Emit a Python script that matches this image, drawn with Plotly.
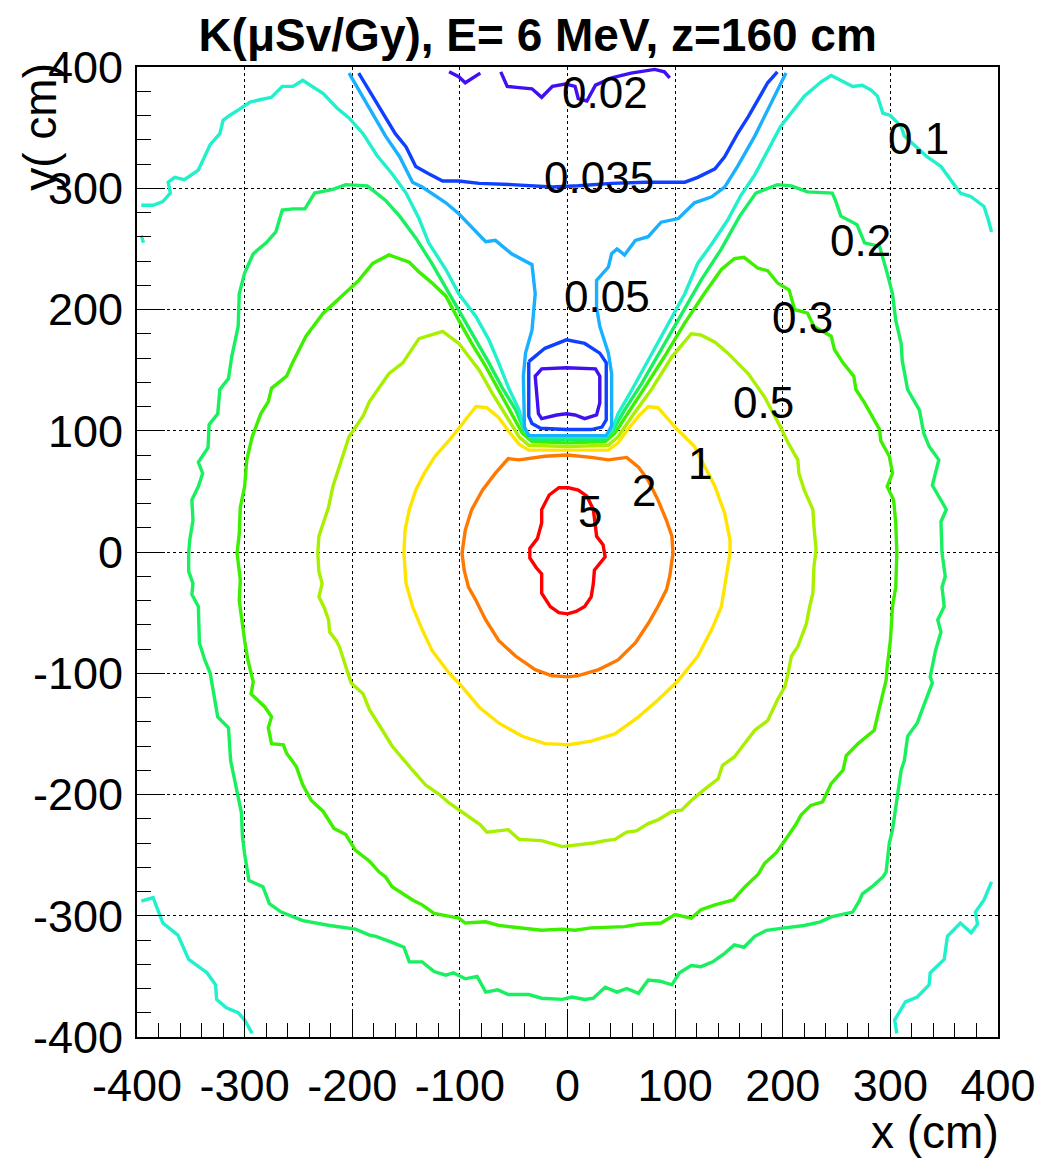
import plotly.graph_objects as go

k5_x = [0, -8, -17, -24, -24, -28, -35, -35, -29, -24, -24, -16, -8, 0, 8, 16, 22, 24, 25, 30, 35, 33, 27, 26, 24, 18, 10, 1, 0]
k5_y = [53, 53, 47, 35, 24, 11, 3, -5, -13, -18, -34, -45, -50, -51, -49, -45, -37, -26, -15, -9, -4, 6, 13, 21, 35, 46, 51, 53, 53]

k2_x = [0, -21, -45, -55, -67, -79, -89, -95, -98, -96, -92, -85, -76, -64, -48, -30, -15, 0, 10, 29, 47, 63, 75, 84, 92, 95, 98, 97, 92, 84, 75, 66, 55, 38, 22, 0]
k2_y = [80, 79, 76, 77, 65, 51, 35, 18, -1, -15, -29, -40, -56, -73, -86, -97, -102, -103, -102, -97, -89, -75, -59, -45, -31, -20, -1, 13, 26, 43, 59, 70, 78, 76, 78, 80]

k1_x = [0, 38, 47, 56, 66, 75, 84, 100, 118, 137, 146, 151, 151, 146, 143, 134, 121, 103, 84, 66, 44, 22, 1, -21, -42, -64, -82, -98, -110, -126, -135, -144, -150, -152, -151, -147, -141, -133, -123, -110, -98, -85, -75, -64, -55, -45, -36, 0]
k1_y = [84, 84, 90, 101, 112, 120, 119, 103, 87, 54, 32, 10, -1, -29, -45, -64, -86, -106, -122, -136, -150, -156, -159, -158, -152, -141, -128, -111, -100, -81, -64, -45, -26, -1, 18, 35, 51, 65, 79, 92, 105, 120, 119, 111, 100, 89, 84, 84]

k05_x = [0, 38, 47, 60, 78, 97, 115, 124, 137, 149, 168, 183, 198, 205, 214, 215, 220, 228, 229, 231, 229, 228, 225, 222, 214, 208, 205, 202, 195, 186, 174, 164, 155, 144, 140, 127, 115, 106, 97, 84, 75, 64, 55, 44, 35, 24, 13, 1, -5, -24, -45, -55, -75, -81, -99, -110, -119, -132, -144, -156, -163, -172, -184, -190, -201, -204, -212, -215, -221, -222, -226, -231, -228, -231, -232, -231, -227, -222, -218, -212, -203, -190, -184, -166, -153, -138, -116, -101, -82, -70, -55, -45, -36, 0]
k05_y = [87, 88, 95, 112, 134, 161, 180, 179, 173, 164, 147, 128, 103, 90, 76, 65, 51, 35, 21, 2, -12, -34, -45, -59, -78, -86, -100, -111, -122, -139, -147, -158, -169, -176, -187, -196, -205, -213, -214, -221, -224, -230, -231, -237, -238, -240, -241, -242, -243, -238, -237, -229, -231, -225, -214, -207, -200, -192, -180, -167, -160, -147, -130, -117, -108, -100, -78, -73, -66, -56, -46, -37, -26, -16, -1, 13, 24, 37, 54, 70, 95, 112, 124, 147, 156, 176, 182, 172, 150, 131, 109, 95, 88, 87]

k03_x = [0, 35, 44, 56, 72, 90, 109, 127, 143, 155, 164, 177, 186, 195, 206, 211, 223, 229, 245, 248, 256, 266, 268, 276, 290, 291, 299, 302, 297, 303, 305, 306, 305, 302, 300, 297, 296, 290, 285, 270, 259, 256, 245, 237, 226, 217, 212, 202, 194, 183, 177, 165, 154, 137, 124, 115, 100, 87, 66, 53, 22, 7, -5, -24, -42, -64, -76, -95, -101, -113, -124, -135, -144, -163, -169, -175, -184, -197, -203, -206, -217, -227, -238, -246, -252, -261, -264, -275, -278, -275, -281, -294, -292, -297, -300, -303, -305, -304, -307, -305, -304, -300, -298, -293, -285, -278, -275, -261, -255, -243, -227, -200, -194, -181, -166, -147, -138, -126, -113, -101, -89, -76, -64, -52, -42, -33, 0]
k03_y = [90, 91, 98, 114, 136, 161, 189, 213, 233, 242, 243, 234, 232, 222, 216, 200, 197, 186, 178, 167, 156, 145, 134, 123, 101, 92, 79, 65, 54, 43, 24, -1, -29, -45, -73, -95, -106, -128, -147, -158, -168, -180, -191, -206, -209, -217, -225, -238, -248, -257, -266, -276, -287, -291, -295, -302, -299, -306, -307, -309, -310, -312, -311, -312, -310, -308, -305, -306, -302, -300, -298, -291, -287, -276, -268, -264, -255, -246, -238, -233, -228, -214, -205, -192, -177, -166, -159, -158, -145, -136, -128, -117, -107, -89, -73, -51, -40, -23, -1, 15, 37, 54, 76, 95, 114, 124, 135, 145, 157, 178, 197, 219, 224, 238, 245, 239, 231, 222, 211, 191, 172, 153, 134, 114, 98, 91, 90]

k02_x = [0, 35, 42, 53, 69, 87, 106, 124, 143, 160, 175, 195, 208, 223, 246, 249, 254, 269, 276, 290, 297, 302, 305, 310, 311, 316, 327, 331, 336, 345, 339, 352, 347, 348, 351, 348, 350, 344, 347, 342, 337, 339, 333, 325, 316, 313, 310, 306, 302, 299, 296, 293, 283, 274, 271, 265, 245, 235, 220, 202, 185, 174, 164, 155, 146, 135, 124, 115, 104, 97, 86, 75, 66, 55, 46, 35, 24, 16, 4, -5, -24, -36, -55, -65, -76, -84, -95, -106, -113, -124, -135, -147, -152, -163, -178, -184, -197, -221, -246, -266, -277, -283, -296, -300, -302, -303, -306, -311, -313, -315, -325, -332, -337, -342, -343, -349, -348, -352, -352, -351, -348, -349, -343, -339, -343, -334, -333, -325, -323, -315, -312, -306, -305, -300, -292, -280, -271, -265, -255, -244, -235, -218, -206, -186, -169, -156, -141, -126, -110, -98, -85, -73, -61, -48, -40, -33, 0]
k02_y = [93, 93, 100, 117, 139, 167, 197, 224, 250, 277, 296, 303, 302, 297, 296, 290, 277, 270, 255, 252, 230, 213, 191, 172, 158, 134, 117, 98, 87, 76, 55, 35, 25, -1, -20, -29, -45, -56, -66, -81, -103, -108, -122, -141, -152, -172, -180, -205, -229, -240, -264, -268, -276, -282, -288, -297, -301, -305, -308, -310, -312, -317, -326, -324, -331, -338, -342, -341, -347, -357, -354, -353, -364, -360, -363, -359, -368, -369, -367, -369, -368, -365, -365, -361, -363, -350, -352, -347, -349, -346, -338, -338, -326, -322, -317, -316, -311, -308, -304, -297, -290, -276, -271, -249, -235, -215, -202, -183, -172, -145, -136, -100, -89, -75, -45, -35, -26, -16, -1, 10, 26, 43, 54, 65, 74, 86, 105, 114, 134, 143, 161, 186, 213, 230, 246, 255, 264, 282, 283, 283, 296, 299, 303, 302, 290, 277, 259, 238, 213, 194, 175, 156, 136, 117, 100, 93, 93]

# 0.1 contour: upper band and two lower corner pieces
k01a_x = [-396, -385, -376, -369, -371, -365, -356, -343, -332, -323, -320, -314, -305, -295, -286, -275, -265, -255, -246, -227, -214, -203, -190, -177, -163, -150, -138, -129, -113, -101, -85, -73, -64, -55, -45, -40, -35, 0, 36, 42, 47, 60, 72, 84, 97, 109, 121, 134, 149, 161, 174, 198, 220, 236, 245, 257, 265, 274, 282, 288, 293, 300, 310, 313, 334, 347, 365, 375, 387, 391, 394]
k01a_y = [286, 286, 289, 296, 305, 309, 307, 315, 336, 345, 356, 360, 365, 371, 373, 375, 384, 384, 389, 378, 366, 358, 345, 327, 312, 296, 275, 255, 233, 213, 194, 175, 156, 136, 117, 101, 95, 95, 95, 102, 114, 134, 153, 172, 194, 213, 238, 254, 274, 294, 311, 351, 376, 388, 393, 388, 384, 385, 381, 376, 362, 360, 351, 343, 326, 318, 296, 293, 285, 274, 264]
k01b_x = [-396, -394]
k01b_y = [261, 255]
k01c_x = [-396, -385, -376, -362, -357, -352, -335, -327, -326, -317, -306, -300, -293]
k01c_y = [-288, -285, -306, -316, -326, -336, -347, -357, -369, -376, -380, -386, -397]
k01d_x = [306, 304, 314, 325, 336, 337, 350, 353, 365, 375, 381, 379, 387, 394]
k01d_y = [-397, -386, -371, -367, -357, -347, -336, -317, -306, -314, -307, -297, -287, -272]

k005_x = [-203, -194, -181, -169, -156, -144, -135, -113, -101, -89, -76, -67, -52, -33, -30, -33, -39, -41, -40, -36, 0, 36, 41, 41, 38, 30, 27, 27, 38, 41, 46, 53, 63, 75, 87, 103, 118, 134, 146, 158, 174, 183, 194, 203]
k005_y = [395, 381, 362, 343, 326, 305, 301, 288, 279, 268, 256, 257, 246, 237, 213, 183, 164, 145, 103, 96, 96, 96, 104, 147, 164, 186, 202, 224, 235, 246, 250, 245, 257, 260, 272, 275, 288, 293, 301, 318, 343, 359, 378, 395]

k0035a_x = [-194, -181, -169, -160, -150, -141, -129, -116, -101, -82, -52, -14, 10, 41, 72, 97, 109, 121, 137, 146, 158, 168, 177, 186, 195]
k0035a_y = [395, 376, 359, 345, 334, 318, 312, 306, 306, 304, 303, 301, 302, 304, 305, 305, 305, 309, 316, 326, 345, 359, 373, 387, 396]
k0035b_x = [-36, -21, -1, 16, 30, 36, 36, 32, 22, -1, -25, -33, -36, -36]
k0035b_y = [157, 168, 175, 172, 164, 156, 109, 103, 101, 101, 102, 106, 112, 157]

k002a_x = [-110, -101, -95, -81]
k002a_y = [396, 392, 387, 395]
k002b_x = [-62, -56, -45, -33, -24, -14, -2, 7, 10, 18, 26, 41, 59, 81, 90, 95]
k002b_y = [396, 384, 383, 382, 375, 384, 386, 384, 374, 372, 385, 391, 395, 398, 396, 391]
k002c_x = [-28, -24, -1, 26, 30, 30, 27, 16, 7, -1, -10, -24, -27, -30, -28]
k002c_y = [147, 151, 152, 151, 145, 123, 113, 110, 113, 114, 113, 110, 114, 145, 147]

# Level labels placed next to their lines
label_text = ["0.02", "0.035", "0.05", "0.1", "0.2", "0.3", "0.5", "1", "2", "5"]
label_x = [35, 29, 37, 326, 272, 218, 182, 123, 71, 21]
label_y = [379, 309, 211, 341, 257, 193, 123, 73, 51, 33]

tick_vals = [-400, -300, -200, -100, 0, 100, 200, 300, 400]
tick_text = ["-400", "-300", "-200", "-100", "0", "100", "200", "300", "400"]

C = {
    "0.02": "#4010f0",
    "0.035": "#1040ff",
    "0.05": "#18b0ff",
    "0.1": "#20f0cc",
    "0.2": "#18f060",
    "0.3": "#3cf000",
    "0.5": "#a8f000",
    "1": "#ffe400",
    "2": "#ff7800",
    "5": "#ff0000",
}

curves = [
    (k5_x, k5_y, "5"),
    (k2_x, k2_y, "2"),
    (k1_x, k1_y, "1"),
    (k05_x, k05_y, "0.5"),
    (k03_x, k03_y, "0.3"),
    (k02_x, k02_y, "0.2"),
    (k01a_x, k01a_y, "0.1"),
    (k01b_x, k01b_y, "0.1"),
    (k01c_x, k01c_y, "0.1"),
    (k01d_x, k01d_y, "0.1"),
    (k005_x, k005_y, "0.05"),
    (k0035a_x, k0035a_y, "0.035"),
    (k0035b_x, k0035b_y, "0.035"),
    (k002a_x, k002a_y, "0.02"),
    (k002b_x, k002b_y, "0.02"),
    (k002c_x, k002c_y, "0.02"),
]

fig = go.Figure()
for xs, ys, lev in curves:
    fig.add_trace(go.Scatter(
        x=xs, y=ys, mode="lines",
        line=dict(color=C[lev], width=3.4),
        hoverinfo="skip", showlegend=False,
    ))

FONT = "Liberation Sans, Arial, Helvetica, sans-serif"

for t, lx, ly in zip(label_text, label_x, label_y):
    fig.add_annotation(x=lx, y=ly, xref="x", yref="y", text=t, showarrow=False,
                       font=dict(family=FONT, size=44, color="black"),
                       xanchor="center", yanchor="middle")

axis_common = dict(
    range=[-400, 400],
    tickmode="array", tickvals=tick_vals, ticktext=tick_text,
    ticks="inside", ticklen=28, tickwidth=1, tickcolor="black",
    minor=dict(dtick=20, ticks="inside", ticklen=14, tickwidth=1, tickcolor="black", showgrid=False),
    showgrid=True, gridcolor="black", gridwidth=1, griddash="dot",
    showline=True, linecolor="black", linewidth=2, mirror=True,
    zeroline=False,
    tickfont=dict(family=FONT, size=45, color="black"),
)

fig.update_xaxes(**axis_common, ticklabelstandoff=8)
fig.update_yaxes(**axis_common, ticklabelstandoff=3)

fig.add_annotation(xref="paper", yref="paper", x=1.003, y=-0.098, text="x (cm)",
                   showarrow=False, xanchor="right", yanchor="middle",
                   font=dict(family=FONT, size=46, color="black"))
fig.add_annotation(xref="paper", yref="paper", x=-0.112, y=1.006, text="y( cm)",
                   showarrow=False, xanchor="center", yanchor="top", textangle=-90,
                   font=dict(family=FONT, size=46, color="black"))

fig.update_layout(
    width=1048, height=1162,
    margin=dict(l=137, r=47, t=67, b=125),
    paper_bgcolor="white", plot_bgcolor="white",
    title=dict(text="<b>K(μSv/Gy), E= 6 MeV, z=160 cm</b>", x=0.513, xanchor="center",
               y=0.970, yanchor="middle", yref="container",
               font=dict(family=FONT, size=46, color="black")),
)

fig.write_html("out.html")
